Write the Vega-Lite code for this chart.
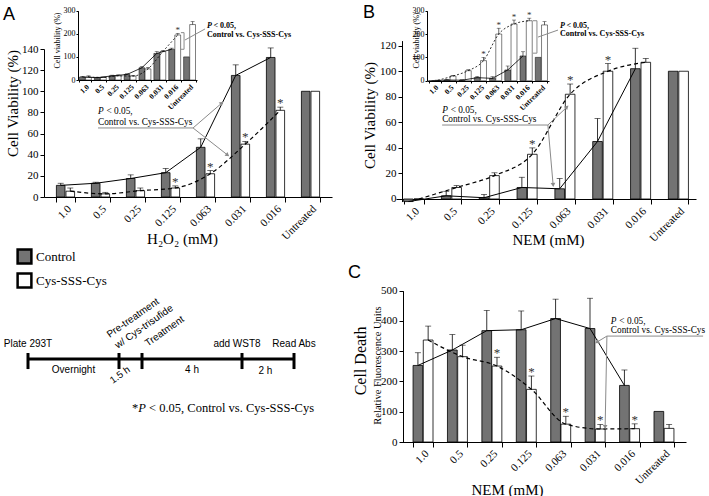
{
"$schema": "https://vega.github.io/schema/vega-lite/v6.json",
"width": 709, "height": 496, "autosize": {"type": "none"}, "padding": 0, "background": "white",
"config": {"view": {"stroke": null},
  "axis": {"grid": false, "domainColor": "black", "tickColor": "black", "labelColor": "black", "titleColor": "black", "labelFont": "Liberation Serif", "titleFont": "Liberation Serif", "titleFontWeight": "normal", "domainWidth": 1, "tickWidth": 1, "labelOverlap": false},
  "text": {"font": "Liberation Serif", "color": "black"}},
"datasets": {
 "A": [
  {"c":"1.0","g":"Control","v":11,"e":13},{"c":"1.0","g":"Cys-SSS-Cys","v":5.5,"e":8.5},
  {"c":"0.5","g":"Control","v":13,"e":14},{"c":"0.5","g":"Cys-SSS-Cys","v":3,"e":4.4},
  {"c":"0.25","g":"Control","v":17.5,"e":21},{"c":"0.25","g":"Cys-SSS-Cys","v":6,"e":8.5},
  {"c":"0.125","g":"Control","v":23,"e":27},{"c":"0.125","g":"Cys-SSS-Cys","v":8.5,"e":10.5,"s":1},
  {"c":"0.063","g":"Control","v":47,"e":55},{"c":"0.063","g":"Cys-SSS-Cys","v":22,"e":25,"s":1},
  {"c":"0.031","g":"Control","v":115,"e":125},{"c":"0.031","g":"Cys-SSS-Cys","v":50,"e":52.6,"s":1},
  {"c":"0.016","g":"Control","v":132,"e":141},{"c":"0.016","g":"Cys-SSS-Cys","v":82,"e":85,"s":1},
  {"c":"Untreated","g":"Control","v":100},{"c":"Untreated","g":"Cys-SSS-Cys","v":100}],
 "Ai": [
  {"c":"1.0","g":"Control","v":13,"e":16},{"c":"1.0","g":"Cys-SSS-Cys","v":13,"e":18},
  {"c":"0.5","g":"Control","v":10,"e":12},{"c":"0.5","g":"Cys-SSS-Cys","v":11,"e":13},
  {"c":"0.25","g":"Control","v":18,"e":21},{"c":"0.25","g":"Cys-SSS-Cys","v":18,"e":22},
  {"c":"0.125","g":"Control","v":24,"e":27},{"c":"0.125","g":"Cys-SSS-Cys","v":17,"e":20},
  {"c":"0.063","g":"Control","v":53,"e":58},{"c":"0.063","g":"Cys-SSS-Cys","v":48,"e":55},
  {"c":"0.031","g":"Control","v":115,"e":123},{"c":"0.031","g":"Cys-SSS-Cys","v":123,"e":128},
  {"c":"0.016","g":"Control","v":133,"e":138},{"c":"0.016","g":"Cys-SSS-Cys","v":195,"e":202,"s":1},
  {"c":"Untreated","g":"Control","v":100},{"c":"Untreated","g":"Cys-SSS-Cys","v":240,"e":253}],
 "B": [
  {"c":"1.0","g":"Control","v":-2},{"c":"1.0","g":"Cys-SSS-Cys","v":0},
  {"c":"0.5","g":"Control","v":2.5,"e":6},{"c":"0.5","g":"Cys-SSS-Cys","v":9,"e":10.5},
  {"c":"0.25","g":"Control","v":1,"e":3.5},{"c":"0.25","g":"Cys-SSS-Cys","v":18.3,"e":20.5},
  {"c":"0.125","g":"Control","v":9,"e":17},{"c":"0.125","g":"Cys-SSS-Cys","v":35,"e":40,"s":1},
  {"c":"0.063","g":"Control","v":8,"e":16},{"c":"0.063","g":"Cys-SSS-Cys","v":82,"e":90,"s":1},
  {"c":"0.031","g":"Control","v":45,"e":63},{"c":"0.031","g":"Cys-SSS-Cys","v":100,"e":106,"s":1},
  {"c":"0.016","g":"Control","v":102,"e":118},{"c":"0.016","g":"Cys-SSS-Cys","v":107,"e":110},
  {"c":"Untreated","g":"Control","v":100},{"c":"Untreated","g":"Cys-SSS-Cys","v":100}],
 "Bi": [
  {"c":"1.0","g":"Control","v":-1},{"c":"1.0","g":"Cys-SSS-Cys","v":2},
  {"c":"0.5","g":"Control","v":3,"e":5},{"c":"0.5","g":"Cys-SSS-Cys","v":20,"e":23},
  {"c":"0.25","g":"Control","v":2,"e":4},{"c":"0.25","g":"Cys-SSS-Cys","v":43,"e":47},
  {"c":"0.125","g":"Control","v":13,"e":18},{"c":"0.125","g":"Cys-SSS-Cys","v":86,"e":100,"s":1},
  {"c":"0.063","g":"Control","v":10,"e":17},{"c":"0.063","g":"Cys-SSS-Cys","v":200,"e":225,"s":1},
  {"c":"0.031","g":"Control","v":46,"e":63},{"c":"0.031","g":"Cys-SSS-Cys","v":243,"e":260,"s":1},
  {"c":"0.016","g":"Control","v":106,"e":124},{"c":"0.016","g":"Cys-SSS-Cys","v":257,"e":268,"s":1},
  {"c":"Untreated","g":"Control","v":100},{"c":"Untreated","g":"Cys-SSS-Cys","v":239,"e":253}],
 "C": [
  {"c":"1.0","g":"Control","v":253,"e":295},{"c":"1.0","g":"Cys-SSS-Cys","v":337,"e":383},
  {"c":"0.5","g":"Control","v":304,"e":355},{"c":"0.5","g":"Cys-SSS-Cys","v":282,"e":320},
  {"c":"0.25","g":"Control","v":368,"e":435},{"c":"0.25","g":"Cys-SSS-Cys","v":251,"e":280,"s":1},
  {"c":"0.125","g":"Control","v":371,"e":433},{"c":"0.125","g":"Cys-SSS-Cys","v":174,"e":218,"s":1},
  {"c":"0.063","g":"Control","v":408,"e":472},{"c":"0.063","g":"Cys-SSS-Cys","v":59,"e":85,"s":1},
  {"c":"0.031","g":"Control","v":375,"e":475},{"c":"0.031","g":"Cys-SSS-Cys","v":43,"e":58,"s":1},
  {"c":"0.016","g":"Control","v":187,"e":238},{"c":"0.016","g":"Cys-SSS-Cys","v":44,"e":60,"s":1},
  {"c":"Untreated","g":"Control","v":101},{"c":"Untreated","g":"Cys-SSS-Cys","v":45,"e":58}]
},
"resolve": {"scale": {"x": "independent", "y": "independent", "xOffset": "independent", "fill": "independent"}},
"layer": [
 {
  "data": {"name": "A"},
  "encoding": {
   "x": {"field": "c", "type": "nominal", "sort": ["1.0","0.5","0.25","0.125","0.063","0.031","0.016","Untreated"],
     "scale": {"range": [44, 332], "paddingInner": 0.48, "paddingOuter": 0.354},
     "axis": {"orient": "bottom", "offset": -299, "title": "H₂O₂ (mM)", "titleFontSize": 15, "titleX": 182, "titleY": 41, "titleBaseline": "middle", "titleAlign": "center", "labels": false, "tickBand": "extent", "tickSize": 5}},
   "y": {"field": "v", "type": "quantitative", "scale": {"domain": [0, 140], "range": [197, 49], "nice": false, "zero": false},
     "axis": {"orient": "left", "offset": -44, "values": [0,20,40,60,80,100,120,140], "title": "Cell Viability (%)", "titleFontSize": 15, "titleX": -32, "titleY": 103, "titleBaseline": "middle", "titleAlign": "center", "titleAngle": -90, "labelFontSize": 11, "tickSize": 4, "labelPadding": 2}}
  },
  "layer": [
   {"mark": {"type": "bar", "stroke": "black", "strokeWidth": 0.8},
    "encoding": {"xOffset": {"field": "g", "type": "nominal", "scale": {"domain": ["Control","Cys-SSS-Cys"], "paddingInner": 0.1}},
     "fill": {"field": "g", "type": "nominal", "scale": {"domain": ["Control","Cys-SSS-Cys"], "range": ["#737373", "#ffffff"]},
      "legend": {"orient": "none", "legendX": 16, "legendY": 248, "title": null, "symbolType": "square", "symbolSize": 190, "symbolStrokeColor": "black", "symbolStrokeWidth": 2.5, "labelFont": "Liberation Serif", "labelFontSize": 13, "labelColor": "black", "rowPadding": -1, "labelOffset": 3, "padding": 0}}}},
   {"transform": [{"filter": "datum.e != null"}], "mark": {"type": "rule", "color": "black", "strokeWidth": 0.8}, "encoding": {"xOffset": {"field": "g", "type": "nominal"}, "y2": {"field": "e"}}},
   {"transform": [{"filter": "datum.e != null"}], "mark": {"type": "tick", "color": "black", "thickness": 0.8, "size": 6, "orient": "horizontal"}, "encoding": {"xOffset": {"field": "g", "type": "nominal"}, "y": {"field": "e", "type": "quantitative"}}},
   {"transform": [{"filter": "datum.c != 'Untreated' && datum.g == 'Control'"}], "mark": {"type": "line", "color": "black", "strokeWidth": 1}, "encoding": {"xOffset": {"field": "g", "type": "nominal"}}},
   {"transform": [{"filter": "datum.c != 'Untreated' && datum.g == 'Cys-SSS-Cys'"}], "mark": {"type": "line", "color": "black", "strokeWidth": 1.2, "strokeDash": [4, 3], "interpolate": "monotone"}, "encoding": {"xOffset": {"field": "g", "type": "nominal"}}},
   {"transform": [{"filter": "datum.s == 1"}], "mark": {"type": "text", "fontSize": 13, "color": "#333333", "baseline": "alphabetic"}, "encoding": {"xOffset": {"field": "g", "type": "nominal"}, "y": {"field": "e", "type": "quantitative"}, "text": {"value": "*"}}}
  ]
 },
 {
  "data": {"values": [
   {"k":"L","x":-1.14,"y":167.4,"t":"A"},
   {"k":"P","x":1.5,"y":78.5,"t":"P"},
   {"k":"T","x":1.736,"y":78.5,"t":"< 0.05,"},
   {"k":"T","x":1.5,"y":68,"t":"Control vs. Cys-SSS-Cys"},
   {"k":"seg","x":1.5,"y":65.3,"x2":4.14,"y2":65.3},
   {"k":"seg","x":4.14,"y":65.3,"x2":4.94,"y2":88.9},
   {"k":"seg","x":4.14,"y":65.3,"x2":5.1,"y2":39.7},
   {"k":"h1","x":4.94,"y":88.9},
   {"k":"h2","x":5.1,"y":39.7},
   {"k":"xl","x":0.597,"y":-6,"t":"1.0"},
   {"k":"xl","x":1.569,"y":-6,"t":"0.5"},
   {"k":"xl","x":2.542,"y":-6,"t":"0.25"},
   {"k":"xl","x":3.514,"y":-6,"t":"0.125"},
   {"k":"xl","x":4.486,"y":-6,"t":"0.063"},
   {"k":"xl","x":5.458,"y":-6,"t":"0.031"},
   {"k":"xl","x":6.431,"y":-6,"t":"0.016"},
   {"k":"xl","x":7.403,"y":-6,"t":"Untreated"}]},
  "encoding": {
   "x": {"field": "x", "type": "quantitative", "scale": {"domain": [0, 8], "range": [44, 332], "nice": false, "zero": false}, "axis": null},
   "y": {"field": "y", "type": "quantitative", "scale": {"domain": [0, 140], "range": [197, 49], "nice": false, "zero": false}, "axis": null}},
  "layer": [
   {"transform": [{"filter": "datum.k == 'seg'"}], "mark": {"type": "rule", "color": "#8a8a8a", "strokeWidth": 1}, "encoding": {"x2": {"field": "x2"}, "y2": {"field": "y2"}}},
   {"transform": [{"filter": "datum.k == 'h1'"}], "mark": {"type": "point", "shape": "triangle-up", "size": 22, "filled": true, "color": "#8a8a8a", "opacity": 1, "angle": 49}, "encoding": {}},
   {"transform": [{"filter": "datum.k == 'h2'"}], "mark": {"type": "point", "shape": "triangle-up", "size": 22, "filled": true, "color": "#8a8a8a", "opacity": 1, "angle": 128}, "encoding": {}},
   {"transform": [{"filter": "datum.k == 'L'"}], "mark": {"type": "text", "font": "Liberation Sans", "fontSize": 18, "align": "left", "baseline": "alphabetic"}, "encoding": {"text": {"field": "t"}}},
   {"transform": [{"filter": "datum.k == 'P'"}], "mark": {"type": "text", "fontSize": 9.3, "fontStyle": "italic", "align": "left", "baseline": "alphabetic"}, "encoding": {"text": {"field": "t"}}},
   {"transform": [{"filter": "datum.k == 'T'"}], "mark": {"type": "text", "fontSize": 9.3, "align": "left", "baseline": "alphabetic"}, "encoding": {"text": {"field": "t"}}},
   {"transform": [{"filter": "datum.k == 'xl'"}], "mark": {"type": "text", "fontSize": 11, "angle": -45, "align": "right", "baseline": "top"}, "encoding": {"text": {"field": "t"}}}
  ]
 },
 {
  "data": {"name": "Ai"},
  "encoding": {
   "x": {"field": "c", "type": "nominal", "sort": ["1.0","0.5","0.25","0.125","0.063","0.031","0.016","Untreated"],
     "scale": {"range": [78, 197], "paddingInner": 0.2, "paddingOuter": 0.1},
     "axis": {"orient": "bottom", "offset": -416, "title": null, "labels": false, "tickBand": "extent", "tickSize": 2}},
   "y": {"field": "v", "type": "quantitative", "scale": {"domain": [0, 300], "range": [80, 10.7], "nice": false, "zero": false},
     "axis": {"orient": "left", "offset": -78, "values": [0,100,200,300], "title": "Cell viability (%)", "titleFontSize": 8, "titleX": -21, "titleY": 40, "titleBaseline": "middle", "titleAlign": "center", "titleAngle": -90, "labelFontSize": 8, "tickSize": 2, "labelPadding": 1}}
  },
  "layer": [
   {"mark": {"type": "bar", "stroke": "black", "strokeWidth": 0.5},
    "encoding": {"xOffset": {"field": "g", "type": "nominal", "scale": {"domain": ["Control","Cys-SSS-Cys"], "paddingInner": 0.05}},
     "fill": {"field": "g", "type": "nominal", "scale": {"domain": ["Control","Cys-SSS-Cys"], "range": ["#737373", "#ffffff"]}, "legend": null}}},
   {"transform": [{"filter": "datum.e != null"}], "mark": {"type": "rule", "color": "black", "strokeWidth": 0.6}, "encoding": {"xOffset": {"field": "g", "type": "nominal"}, "y2": {"field": "e"}}},
   {"transform": [{"filter": "datum.e != null"}], "mark": {"type": "tick", "color": "black", "thickness": 0.6, "size": 4, "orient": "horizontal"}, "encoding": {"xOffset": {"field": "g", "type": "nominal"}, "y": {"field": "e", "type": "quantitative"}}},
   {"transform": [{"filter": "datum.c != 'Untreated' && datum.g == 'Control'"}], "mark": {"type": "line", "color": "black", "strokeWidth": 0.8}, "encoding": {"xOffset": {"field": "g", "type": "nominal"}}},
   {"transform": [{"filter": "datum.c != 'Untreated' && datum.g == 'Cys-SSS-Cys'"}], "mark": {"type": "line", "color": "black", "strokeWidth": 0.8, "strokeDash": [2, 2], "interpolate": "monotone"}, "encoding": {"xOffset": {"field": "g", "type": "nominal"}}},
   {"transform": [{"filter": "datum.s == 1"}], "mark": {"type": "text", "fontSize": 9, "color": "#333333", "baseline": "alphabetic"}, "encoding": {"xOffset": {"field": "g", "type": "nominal"}, "y": {"field": "e", "type": "quantitative"}, "text": {"value": "*"}}}
  ]
 },
 {
  "data": {"values": [
   {"k":"P","x":8.67,"y":225,"t":"P"},
   {"k":"T","x":9.107,"y":225,"t":"< 0.05,"},
   {"k":"T","x":8.67,"y":186,"t":"Control vs. Cys-SSS-Cys"},
   {"k":"seg","x":8.54,"y":221,"x2":7.19,"y2":173},
   {"k":"seg","x":7.13,"y":205,"x2":7.13,"y2":133},
   {"k":"seg","x":6.92,"y":205,"x2":7.13,"y2":205},
   {"k":"seg","x":6.92,"y":133,"x2":7.13,"y2":133},
   {"k":"xl","x":0.5,"y":-14,"t":"1.0"},
   {"k":"xl","x":1.5,"y":-14,"t":"0.5"},
   {"k":"xl","x":2.5,"y":-14,"t":"0.25"},
   {"k":"xl","x":3.5,"y":-14,"t":"0.125"},
   {"k":"xl","x":4.5,"y":-14,"t":"0.063"},
   {"k":"xl","x":5.5,"y":-14,"t":"0.031"},
   {"k":"xl","x":6.5,"y":-14,"t":"0.016"},
   {"k":"xl","x":7.5,"y":-14,"t":"Untreated"}]},
  "encoding": {
   "x": {"field": "x", "type": "quantitative", "scale": {"domain": [0, 8], "range": [78, 197], "nice": false, "zero": false}, "axis": null},
   "y": {"field": "y", "type": "quantitative", "scale": {"domain": [0, 300], "range": [80, 10.7], "nice": false, "zero": false}, "axis": null}},
  "layer": [
   {"transform": [{"filter": "datum.k == 'seg'"}], "mark": {"type": "rule", "color": "#8a8a8a", "strokeWidth": 1}, "encoding": {"x2": {"field": "x2"}, "y2": {"field": "y2"}}},
   {"transform": [{"filter": "datum.k == 'P'"}], "mark": {"type": "text", "fontSize": 8, "fontWeight": "bold", "fontStyle": "italic", "align": "left", "baseline": "alphabetic"}, "encoding": {"text": {"field": "t"}}},
   {"transform": [{"filter": "datum.k == 'T'"}], "mark": {"type": "text", "fontSize": 8, "fontWeight": "bold", "align": "left", "baseline": "alphabetic"}, "encoding": {"text": {"field": "t"}}},
   {"transform": [{"filter": "datum.k == 'xl'"}], "mark": {"type": "text", "fontSize": 7.5, "fontWeight": "bold", "angle": -45, "align": "right", "baseline": "top"}, "encoding": {"text": {"field": "t"}}}
  ]
 },
 {
  "data": {"name": "B"},
  "encoding": {
   "x": {"field": "c", "type": "nominal", "sort": ["1.0","0.5","0.25","0.125","0.063","0.031","0.016","Untreated"],
     "scale": {"range": [396, 696], "paddingInner": 0.47, "paddingOuter": 0.2},
     "axis": {"orient": "bottom", "offset": -297, "title": "NEM (mM)", "titleFontSize": 15, "titleX": 548, "titleY": 40, "titleBaseline": "middle", "titleAlign": "center", "labels": false, "tickBand": "extent", "tickSize": 5}},
   "y": {"field": "v", "type": "quantitative", "scale": {"domain": [-2, 124], "range": [201.55, 40.59], "nice": false, "zero": false},
     "axis": {"orient": "left", "offset": -402, "values": [0,20,40,60,80,100,120], "title": "Cell Viability (%)", "titleFontSize": 15, "titleX": -33, "titleY": 115, "titleBaseline": "middle", "titleAlign": "center", "titleAngle": -90, "labelFontSize": 11, "tickSize": 4, "labelPadding": 2}}
  },
  "layer": [
   {"mark": {"type": "bar", "stroke": "black", "strokeWidth": 0.8},
    "encoding": {"xOffset": {"field": "g", "type": "nominal", "scale": {"domain": ["Control","Cys-SSS-Cys"], "paddingInner": 0.08}},
     "fill": {"field": "g", "type": "nominal", "scale": {"domain": ["Control","Cys-SSS-Cys"], "range": ["#737373", "#ffffff"]}, "legend": null}}},
   {"transform": [{"filter": "datum.e != null"}], "mark": {"type": "rule", "color": "black", "strokeWidth": 0.8}, "encoding": {"xOffset": {"field": "g", "type": "nominal"}, "y2": {"field": "e"}}},
   {"transform": [{"filter": "datum.e != null"}], "mark": {"type": "tick", "color": "black", "thickness": 0.8, "size": 6, "orient": "horizontal"}, "encoding": {"xOffset": {"field": "g", "type": "nominal"}, "y": {"field": "e", "type": "quantitative"}}},
   {"transform": [{"filter": "datum.c != 'Untreated' && datum.g == 'Control'"}], "mark": {"type": "line", "color": "black", "strokeWidth": 1}, "encoding": {"xOffset": {"field": "g", "type": "nominal"}}},
   {"transform": [{"filter": "datum.c != 'Untreated' && datum.g == 'Cys-SSS-Cys'"}], "mark": {"type": "line", "color": "black", "strokeWidth": 1.2, "strokeDash": [4, 3], "interpolate": "monotone"}, "encoding": {"xOffset": {"field": "g", "type": "nominal"}}},
   {"transform": [{"filter": "datum.s == 1"}], "mark": {"type": "text", "fontSize": 13, "color": "#333333", "baseline": "alphabetic"}, "encoding": {"xOffset": {"field": "g", "type": "nominal"}, "y": {"field": "e", "type": "quantitative"}, "text": {"value": "*"}}}
  ]
 },
 {
  "data": {"values": [
   {"k":"L","x":-0.88,"y":141.7,"t":"B"},
   {"k":"P","x":1.23,"y":67.3,"t":"P"},
   {"k":"T","x":1.457,"y":67.3,"t":"< 0.05,"},
   {"k":"T","x":1.23,"y":60.3,"t":"Control vs. Cys-SSS-Cys"},
   {"k":"seg","x":1.23,"y":57.9,"x2":4.05,"y2":57.9},
   {"k":"seg","x":4.05,"y":57.9,"x2":4.56,"y2":72},
   {"k":"seg","x":4.05,"y":57.9,"x2":4.19,"y2":11},
   {"k":"h1","x":4.56,"y":72},
   {"k":"h2","x":4.19,"y":11},
   {"k":"xl","x":0.469,"y":-5,"t":"1.0"},
   {"k":"xl","x":1.478,"y":-5,"t":"0.5"},
   {"k":"xl","x":2.487,"y":-5,"t":"0.25"},
   {"k":"xl","x":3.496,"y":-5,"t":"0.125"},
   {"k":"xl","x":4.505,"y":-5,"t":"0.063"},
   {"k":"xl","x":5.513,"y":-5,"t":"0.031"},
   {"k":"xl","x":6.522,"y":-5,"t":"0.016"},
   {"k":"xl","x":7.531,"y":-5,"t":"Untreated"}]},
  "encoding": {
   "x": {"field": "x", "type": "quantitative", "scale": {"domain": [0, 8], "range": [396, 696], "nice": false, "zero": false}, "axis": null},
   "y": {"field": "y", "type": "quantitative", "scale": {"domain": [-2, 124], "range": [201.55, 40.59], "nice": false, "zero": false}, "axis": null}},
  "layer": [
   {"transform": [{"filter": "datum.k == 'seg'"}], "mark": {"type": "rule", "color": "#8a8a8a", "strokeWidth": 1}, "encoding": {"x2": {"field": "x2"}, "y2": {"field": "y2"}}},
   {"transform": [{"filter": "datum.k == 'h1'"}], "mark": {"type": "point", "shape": "triangle-up", "size": 22, "filled": true, "color": "#8a8a8a", "opacity": 1, "angle": 46}, "encoding": {}},
   {"transform": [{"filter": "datum.k == 'h2'"}], "mark": {"type": "point", "shape": "triangle-up", "size": 22, "filled": true, "color": "#8a8a8a", "opacity": 1, "angle": 175}, "encoding": {}},
   {"transform": [{"filter": "datum.k == 'L'"}], "mark": {"type": "text", "font": "Liberation Sans", "fontSize": 18, "align": "left", "baseline": "alphabetic"}, "encoding": {"text": {"field": "t"}}},
   {"transform": [{"filter": "datum.k == 'P'"}], "mark": {"type": "text", "fontSize": 9.3, "fontStyle": "italic", "align": "left", "baseline": "alphabetic"}, "encoding": {"text": {"field": "t"}}},
   {"transform": [{"filter": "datum.k == 'T'"}], "mark": {"type": "text", "fontSize": 9.3, "align": "left", "baseline": "alphabetic"}, "encoding": {"text": {"field": "t"}}},
   {"transform": [{"filter": "datum.k == 'xl'"}], "mark": {"type": "text", "fontSize": 11, "angle": -45, "align": "right", "baseline": "top"}, "encoding": {"text": {"field": "t"}}}
  ]
 },
 {
  "data": {"name": "Bi"},
  "encoding": {
   "x": {"field": "c", "type": "nominal", "sort": ["1.0","0.5","0.25","0.125","0.063","0.031","0.016","Untreated"],
     "scale": {"range": [427, 549], "paddingInner": 0.2, "paddingOuter": 0.1},
     "axis": {"orient": "bottom", "offset": -415, "title": null, "labels": false, "tickBand": "extent", "tickSize": 2}},
   "y": {"field": "v", "type": "quantitative", "scale": {"domain": [0, 300], "range": [80.7, 10.7], "nice": false, "zero": false},
     "axis": {"orient": "left", "offset": -427, "values": [0,100,200,300], "title": "Cell viability (%)", "titleFontSize": 8, "titleX": -11, "titleY": 40, "titleBaseline": "middle", "titleAlign": "center", "titleAngle": -90, "labelFontSize": 8, "tickSize": 2, "labelPadding": 1}}
  },
  "layer": [
   {"mark": {"type": "bar", "stroke": "black", "strokeWidth": 0.5},
    "encoding": {"xOffset": {"field": "g", "type": "nominal", "scale": {"domain": ["Control","Cys-SSS-Cys"], "paddingInner": 0.05}},
     "fill": {"field": "g", "type": "nominal", "scale": {"domain": ["Control","Cys-SSS-Cys"], "range": ["#737373", "#ffffff"]}, "legend": null}}},
   {"transform": [{"filter": "datum.e != null"}], "mark": {"type": "rule", "color": "black", "strokeWidth": 0.6}, "encoding": {"xOffset": {"field": "g", "type": "nominal"}, "y2": {"field": "e"}}},
   {"transform": [{"filter": "datum.e != null"}], "mark": {"type": "tick", "color": "black", "thickness": 0.6, "size": 4, "orient": "horizontal"}, "encoding": {"xOffset": {"field": "g", "type": "nominal"}, "y": {"field": "e", "type": "quantitative"}}},
   {"transform": [{"filter": "datum.c != 'Untreated' && datum.g == 'Control'"}], "mark": {"type": "line", "color": "black", "strokeWidth": 0.8}, "encoding": {"xOffset": {"field": "g", "type": "nominal"}}},
   {"transform": [{"filter": "datum.c != 'Untreated' && datum.g == 'Cys-SSS-Cys'"}], "mark": {"type": "line", "color": "black", "strokeWidth": 0.8, "strokeDash": [2, 2], "interpolate": "monotone"}, "encoding": {"xOffset": {"field": "g", "type": "nominal"}}},
   {"transform": [{"filter": "datum.s == 1"}], "mark": {"type": "text", "fontSize": 9, "color": "#333333", "baseline": "alphabetic"}, "encoding": {"xOffset": {"field": "g", "type": "nominal"}, "y": {"field": "e", "type": "quantitative"}, "text": {"value": "*"}}}
  ]
 },
 {
  "data": {"values": [
   {"k":"P","x":8.72,"y":226,"t":"P"},
   {"k":"T","x":9.146,"y":226,"t":"< 0.05,"},
   {"k":"T","x":8.72,"y":191.6,"t":"Control vs. Cys-SSS-Cys"},
   {"k":"seg","x":8.59,"y":217,"x2":7.28,"y2":187},
   {"k":"seg","x":7.21,"y":257,"x2":7.21,"y2":118},
   {"k":"seg","x":6.95,"y":257,"x2":7.21,"y2":257},
   {"k":"seg","x":6.95,"y":118,"x2":7.21,"y2":118},
   {"k":"xl","x":0.5,"y":-14,"t":"1.0"},
   {"k":"xl","x":1.5,"y":-14,"t":"0.5"},
   {"k":"xl","x":2.5,"y":-14,"t":"0.25"},
   {"k":"xl","x":3.5,"y":-14,"t":"0.125"},
   {"k":"xl","x":4.5,"y":-14,"t":"0.063"},
   {"k":"xl","x":5.5,"y":-14,"t":"0.031"},
   {"k":"xl","x":6.5,"y":-14,"t":"0.016"},
   {"k":"xl","x":7.5,"y":-14,"t":"Untreated"}]},
  "encoding": {
   "x": {"field": "x", "type": "quantitative", "scale": {"domain": [0, 8], "range": [427, 549], "nice": false, "zero": false}, "axis": null},
   "y": {"field": "y", "type": "quantitative", "scale": {"domain": [0, 300], "range": [80.7, 10.7], "nice": false, "zero": false}, "axis": null}},
  "layer": [
   {"transform": [{"filter": "datum.k == 'seg'"}], "mark": {"type": "rule", "color": "#8a8a8a", "strokeWidth": 1}, "encoding": {"x2": {"field": "x2"}, "y2": {"field": "y2"}}},
   {"transform": [{"filter": "datum.k == 'P'"}], "mark": {"type": "text", "fontSize": 8, "fontWeight": "bold", "fontStyle": "italic", "align": "left", "baseline": "alphabetic"}, "encoding": {"text": {"field": "t"}}},
   {"transform": [{"filter": "datum.k == 'T'"}], "mark": {"type": "text", "fontSize": 8, "fontWeight": "bold", "align": "left", "baseline": "alphabetic"}, "encoding": {"text": {"field": "t"}}},
   {"transform": [{"filter": "datum.k == 'xl'"}], "mark": {"type": "text", "fontSize": 7.5, "fontWeight": "bold", "angle": -45, "align": "right", "baseline": "top"}, "encoding": {"text": {"field": "t"}}}
  ]
 },
 {
  "data": {"name": "C"},
  "encoding": {
   "x": {"field": "c", "type": "nominal", "sort": ["1.0","0.5","0.25","0.125","0.063","0.031","0.016","Untreated"],
     "scale": {"range": [401, 686], "paddingInner": 0.42, "paddingOuter": 0.35},
     "axis": {"orient": "bottom", "offset": -54, "title": "NEM (mM)", "titleFontSize": 15, "titleX": 507, "titleY": 47, "titleBaseline": "middle", "titleAlign": "center", "labels": false, "tickBand": "extent", "tickSize": 5}},
   "y": {"field": "v", "type": "quantitative", "scale": {"domain": [0, 500], "range": [442, 290.7], "nice": false, "zero": false},
     "axis": {"orient": "left", "offset": -403, "values": [0,100,200,300,400,500], "title": "Relative Fluorescence Units", "titleFontSize": 10.5, "titleX": -26, "titleY": 365, "titleBaseline": "middle", "titleAlign": "center", "titleAngle": -90, "labelFontSize": 11, "tickSize": 4, "labelPadding": 2}}
  },
  "layer": [
   {"mark": {"type": "bar", "stroke": "black", "strokeWidth": 0.8},
    "encoding": {"xOffset": {"field": "g", "type": "nominal", "scale": {"domain": ["Control","Cys-SSS-Cys"], "paddingInner": 0.05}},
     "fill": {"field": "g", "type": "nominal", "scale": {"domain": ["Control","Cys-SSS-Cys"], "range": ["#737373", "#ffffff"]}, "legend": null}}},
   {"transform": [{"filter": "datum.e != null"}], "mark": {"type": "rule", "color": "black", "strokeWidth": 0.8}, "encoding": {"xOffset": {"field": "g", "type": "nominal"}, "y2": {"field": "e"}}},
   {"transform": [{"filter": "datum.e != null"}], "mark": {"type": "tick", "color": "black", "thickness": 0.8, "size": 6, "orient": "horizontal"}, "encoding": {"xOffset": {"field": "g", "type": "nominal"}, "y": {"field": "e", "type": "quantitative"}}},
   {"transform": [{"filter": "datum.c != 'Untreated' && datum.g == 'Control'"}], "mark": {"type": "line", "color": "black", "strokeWidth": 1}, "encoding": {"xOffset": {"field": "g", "type": "nominal"}}},
   {"transform": [{"filter": "datum.c != 'Untreated' && datum.g == 'Cys-SSS-Cys'"}], "mark": {"type": "line", "color": "black", "strokeWidth": 1.2, "strokeDash": [4, 3], "interpolate": "monotone"}, "encoding": {"xOffset": {"field": "g", "type": "nominal"}}},
   {"transform": [{"filter": "datum.s == 1"}], "mark": {"type": "text", "fontSize": 13, "color": "#333333", "baseline": "alphabetic"}, "encoding": {"xOffset": {"field": "g", "type": "nominal"}, "y": {"field": "e", "type": "quantitative"}, "text": {"value": "*"}}}
  ]
 },
 {
  "data": {"values": [
   {"k":"L","x":-1.49,"y":542,"t":"C"},
   {"k":"big","x":-1.12,"y":268,"t":"Cell Death"},
   {"k":"P","x":5.89,"y":390,"t":"P"},
   {"k":"T","x":6.129,"y":390,"t":"< 0.05,"},
   {"k":"T","x":5.89,"y":360,"t":"Control vs. Cys-SSS-Cys"},
   {"k":"seg","x":5.78,"y":350,"x2":8.48,"y2":350},
   {"k":"seg","x":5.78,"y":350,"x2":5.5,"y2":330},
   {"k":"seg","x":5.78,"y":350,"x2":5.73,"y2":49.6},
   {"k":"h1","x":5.5,"y":330},
   {"k":"h2","x":5.73,"y":49.6},
   {"k":"xl","x":0.618,"y":-20,"t":"1.0"},
   {"k":"xl","x":1.584,"y":-20,"t":"0.5"},
   {"k":"xl","x":2.55,"y":-20,"t":"0.25"},
   {"k":"xl","x":3.516,"y":-20,"t":"0.125"},
   {"k":"xl","x":4.483,"y":-20,"t":"0.063"},
   {"k":"xl","x":5.449,"y":-20,"t":"0.031"},
   {"k":"xl","x":6.415,"y":-20,"t":"0.016"},
   {"k":"xl","x":7.381,"y":-20,"t":"Untreated"}]},
  "encoding": {
   "x": {"field": "x", "type": "quantitative", "scale": {"domain": [0, 8], "range": [401, 686], "nice": false, "zero": false}, "axis": null},
   "y": {"field": "y", "type": "quantitative", "scale": {"domain": [0, 500], "range": [442, 290.7], "nice": false, "zero": false}, "axis": null}},
  "layer": [
   {"transform": [{"filter": "datum.k == 'seg'"}], "mark": {"type": "rule", "color": "#8a8a8a", "strokeWidth": 1}, "encoding": {"x2": {"field": "x2"}, "y2": {"field": "y2"}}},
   {"transform": [{"filter": "datum.k == 'h1'"}], "mark": {"type": "point", "shape": "triangle-up", "size": 22, "filled": true, "color": "#8a8a8a", "opacity": 1, "angle": 239}, "encoding": {}},
   {"transform": [{"filter": "datum.k == 'h2'"}], "mark": {"type": "point", "shape": "triangle-up", "size": 22, "filled": true, "color": "#8a8a8a", "opacity": 1, "angle": 181}, "encoding": {}},
   {"transform": [{"filter": "datum.k == 'L'"}], "mark": {"type": "text", "font": "Liberation Sans", "fontSize": 18, "align": "left", "baseline": "alphabetic"}, "encoding": {"text": {"field": "t"}}},
   {"transform": [{"filter": "datum.k == 'big'"}], "mark": {"type": "text", "fontSize": 16, "angle": -90, "align": "center", "baseline": "middle"}, "encoding": {"text": {"field": "t"}}},
   {"transform": [{"filter": "datum.k == 'P'"}], "mark": {"type": "text", "fontSize": 9.3, "fontStyle": "italic", "align": "left", "baseline": "alphabetic"}, "encoding": {"text": {"field": "t"}}},
   {"transform": [{"filter": "datum.k == 'T'"}], "mark": {"type": "text", "fontSize": 9.3, "align": "left", "baseline": "alphabetic"}, "encoding": {"text": {"field": "t"}}},
   {"transform": [{"filter": "datum.k == 'xl'"}], "mark": {"type": "text", "fontSize": 11, "angle": -45, "align": "right", "baseline": "top"}, "encoding": {"text": {"field": "t"}}}
  ]
 },
 {
  "data": {"values": [
   {"k":"line","t":0,"t2":23.5,"y":0},
   {"k":"tick","t":0,"y":0.4,"y2":-0.67},
   {"k":"tick","t":16,"y":0.4,"y2":-0.67},
   {"k":"tick","t":17.5,"y":0.4,"y2":-0.67},
   {"k":"tick","t":21.5,"y":0.4,"y2":-0.67},
   {"k":"tick","t":23.5,"y":0.4,"y2":-0.67},
   {"k":"lab","t":0,"y":1,"s":"Plate 293T"},
   {"k":"lab","t":21.3,"y":1,"s":"add WST8"},
   {"k":"lab","t":23.5,"y":1,"s":"Read Abs"},
   {"k":"lab","t":8,"y":-0.7,"s":"Overnight"},
   {"k":"lab","t":19.5,"y":-0.73,"s":"4 h"},
   {"k":"lab","t":22.4,"y":-0.8,"s":"2 h"},
   {"k":"rot","t":16.91,"y":2.73,"s":"Pre-treatment"},
   {"k":"rot","t":17.58,"y":2.15,"s":"w/ Cys-trisufide"},
   {"k":"rot","t":18.4,"y":1.85,"s":"Treatment"},
   {"k":"rot","t":16.07,"y":-1.07,"s":"1.5 h"},
   {"k":"fr","t":16.85,"y":-3.27,"s":"*"},
   {"k":"fp","t":17.26,"y":-3.27,"s":"P"},
   {"k":"fr","t":17.78,"y":-3.27,"s":"< 0.05, Control vs. Cys-SSS-Cys"}]},
  "encoding": {
   "x": {"field": "t", "type": "quantitative", "scale": {"domain": [0, 16, 17.5, 21.5, 23.5], "range": [28, 119, 142, 242, 294], "nice": false, "zero": false}, "axis": null},
   "y": {"field": "y", "type": "quantitative", "scale": {"domain": [-4, 2], "range": [419, 329], "nice": false, "zero": false}, "axis": null}},
  "layer": [
   {"transform": [{"filter": "datum.k == 'line'"}], "mark": {"type": "rule", "color": "black", "strokeWidth": 3}, "encoding": {"x2": {"field": "t2"}}},
   {"transform": [{"filter": "datum.k == 'tick'"}], "mark": {"type": "rule", "color": "black", "strokeWidth": 3}, "encoding": {"y2": {"field": "y2"}}},
   {"transform": [{"filter": "datum.k == 'lab'"}], "mark": {"type": "text", "font": "Liberation Sans", "fontSize": 10, "align": "center", "baseline": "middle"}, "encoding": {"text": {"field": "s"}}},
   {"transform": [{"filter": "datum.k == 'rot'"}], "mark": {"type": "text", "font": "Liberation Sans", "fontSize": 10, "align": "center", "baseline": "middle", "angle": -35}, "encoding": {"text": {"field": "s"}}},
   {"transform": [{"filter": "datum.k == 'fp'"}], "mark": {"type": "text", "fontSize": 12.5, "fontStyle": "italic", "align": "left", "baseline": "middle"}, "encoding": {"text": {"field": "s"}}},
   {"transform": [{"filter": "datum.k == 'fr'"}], "mark": {"type": "text", "fontSize": 12.5, "align": "left", "baseline": "middle"}, "encoding": {"text": {"field": "s"}}}
  ]
 }
]
}
